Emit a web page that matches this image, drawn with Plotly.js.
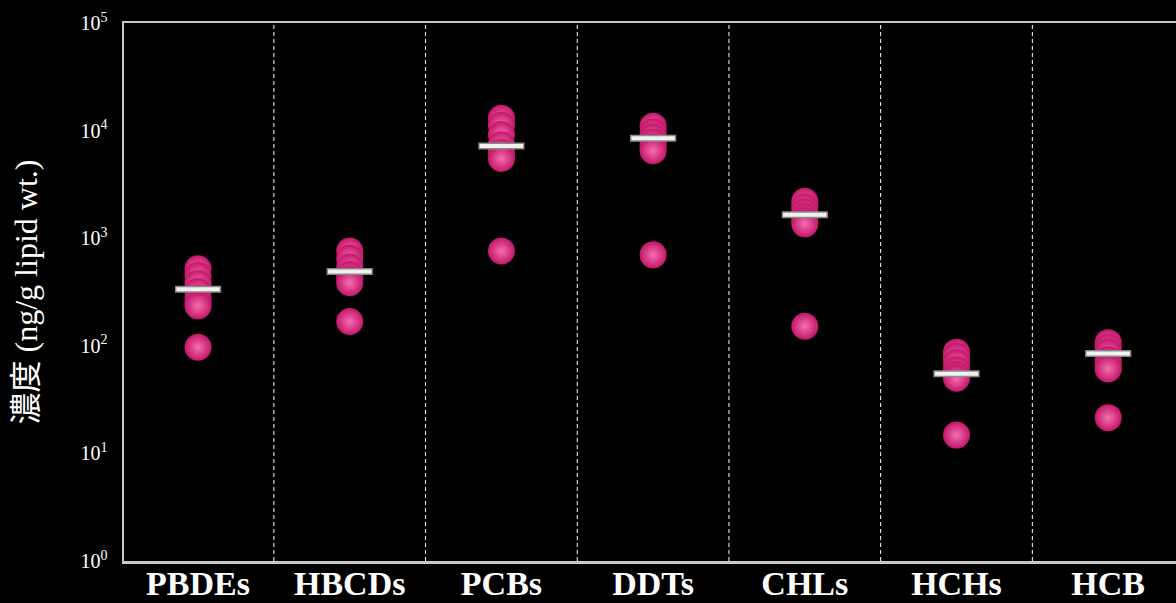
<!DOCTYPE html>
<html>
<head>
<meta charset="utf-8">
<script src="https://cdn.plot.ly/plotly-3.0.1.min.js"></script>
<style>html,body{margin:0;padding:0;background:#000;}#chart{width:1176px;height:603px;}</style>
</head>
<body>
<div id="chart"></div>
<script>
// Categories (compound groups)
const categories = ['PBDEs', 'HBCDs', 'PCBs', 'DDTs', 'CHLs', 'HCHs', 'HCB'];

// Individual sample concentrations (ng/g lipid wt.)
const pbdes = [520, 450, 380, 320, 275, 250, 235, 97];
const hbcds = [760, 650, 540, 460, 410, 385, 168];
const pcbs  = [13000, 11200, 9200, 7400, 6300, 5500, 760];
const ddts  = [11000, 9700, 8700, 7800, 7000, 6500, 700];
const chls  = [2200, 1950, 1750, 1580, 1450, 1360, 152];
const hchs  = [87, 80, 70, 60, 54, 50, 14.8];
const hcb   = [107, 97, 87, 74, 66, 61, 21.5];

// Median values (white bars)
const medians = [335, 490, 7200, 8500, 1650, 55, 85];

// Y tick labels
const yTickVals = [1, 10, 100, 1000, 10000, 100000];
const yTickText = ['10<sup>0</sup>', '10<sup>1</sup>', '10<sup>2</sup>', '10<sup>3</sup>', '10<sup>4</sup>', '10<sup>5</sup>'];

const groups = [pbdes, hbcds, pcbs, ddts, chls, hchs, hcb];
const px = [], py = [];
groups.forEach((g, i) => g.forEach(v => { px.push(categories[i]); py.push(v); }));

const traces = [
  {
    type: 'scatter', mode: 'markers', x: px, y: py, hoverinfo: 'skip',
    marker: {
      size: 27, color: '#c4166a',
      gradient: {type: 'radial', color: '#f46fae'},
      line: {width: 0}
    }
  },
  {
    type: 'scatter', mode: 'markers', x: categories, y: medians, hoverinfo: 'skip',
    marker: {symbol: 'line-ew', size: 33, line: {width: 7, color: '#8a8a8a'}}
  },
  {
    type: 'scatter', mode: 'markers', x: categories, y: medians, hoverinfo: 'skip',
    marker: {symbol: 'line-ew', size: 31, line: {width: 4, color: '#f0f2ee'}}
  }
];

const shapes = [0.5, 1.5, 2.5, 3.5, 4.5, 5.5].map(s => ({
  type: 'line', xref: 'x', yref: 'paper', x0: s, x1: s, y0: 0, y1: 1,
  line: {color: '#ffffff', width: 1, dash: '4px,3px'}, layer: 'below'
}));

const layout = {
  width: 1176, height: 603,
  paper_bgcolor: '#000000', plot_bgcolor: '#000000',
  margin: {l: 124, r: 0, t: 23, b: 42},
  showlegend: false,
  shapes: shapes,
  xaxis: {
    type: 'category', categoryorder: 'array', categoryarray: categories,
    range: [-0.488, 6.447],
    showgrid: false, zeroline: false,
    showline: true, mirror: true, linecolor: '#c8c8c8', linewidth: 2.5,
    ticks: '', ticklabelstandoff: -9,
    tickfont: {family: 'Liberation Serif, Times New Roman, serif', size: 34, color: '#ffffff', weight: 'bold'},
    automargin: false
  },
  yaxis: {
    type: 'log', range: [0, 5],
    tickvals: yTickVals, ticktext: yTickText,
    showgrid: false, zeroline: false,
    showline: true, linecolor: '#c8c8c8', linewidth: 2.5,
    ticks: '', ticklabelstandoff: 10,
    tickfont: {family: 'Liberation Serif, Times New Roman, serif', size: 20, color: '#ffffff'},
    title: {
      text: '濃度 (ng/g lipid wt.)', standoff: 34,
      font: {family: 'Liberation Serif, Noto Sans CJK JP, serif', size: 32, color: '#ffffff'}
    },
    automargin: false
  }
};

Plotly.newPlot('chart', traces, layout, {displayModeBar: false, staticPlot: true});
</script>
</body>
</html>
